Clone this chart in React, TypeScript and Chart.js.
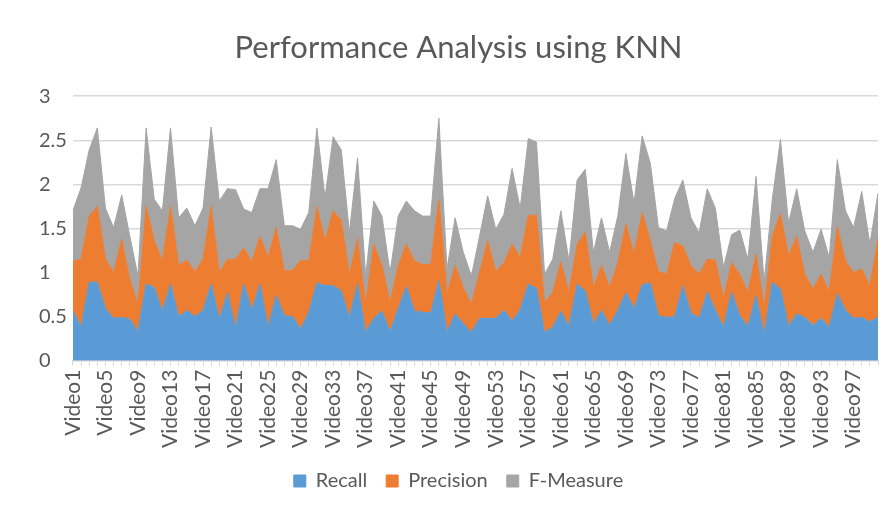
import React, { useEffect, useRef } from "react";
import { Chart, registerables } from "chart.js";

Chart.register(...registerables);

const categories: string[] = Array.from({ length: 100 }, (_, i) => "Video" + (i + 1));

const recall: number[] = [
  0.57, 0.38, 0.89, 0.89, 0.59, 0.48, 0.49, 0.47, 0.33, 0.87,
  0.83, 0.56, 0.87, 0.50, 0.57, 0.50, 0.57, 0.87, 0.47, 0.77,
  0.37, 0.87, 0.57, 0.87, 0.38, 0.74, 0.51, 0.50, 0.36, 0.55,
  0.88, 0.85, 0.85, 0.79, 0.49, 0.87, 0.32, 0.48, 0.56, 0.33,
  0.59, 0.84, 0.56, 0.55, 0.54, 0.91, 0.32, 0.53, 0.42, 0.32,
  0.48, 0.48, 0.48, 0.57, 0.45, 0.58, 0.87, 0.82, 0.32, 0.38,
  0.56, 0.39, 0.87, 0.79, 0.42, 0.57, 0.40, 0.57, 0.77, 0.59,
  0.86, 0.88, 0.51, 0.49, 0.50, 0.85, 0.54, 0.48, 0.78, 0.57,
  0.38, 0.78, 0.51, 0.39, 0.74, 0.30, 0.89, 0.81, 0.39, 0.53,
  0.49, 0.40, 0.48, 0.38, 0.76, 0.57, 0.48, 0.49, 0.44, 0.49,
];

const precision: number[] = [
  0.56, 0.77, 0.75, 0.86, 0.56, 0.52, 0.89, 0.45, 0.31, 0.88,
  0.53, 0.57, 0.88, 0.58, 0.57, 0.51, 0.58, 0.88, 0.53, 0.38,
  0.78, 0.41, 0.55, 0.54, 0.79, 0.77, 0.51, 0.52, 0.78, 0.58,
  0.87, 0.51, 0.85, 0.80, 0.49, 0.52, 0.32, 0.84, 0.52, 0.33,
  0.49, 0.48, 0.57, 0.54, 0.55, 0.92, 0.44, 0.55, 0.41, 0.32,
  0.52, 0.88, 0.53, 0.54, 0.87, 0.59, 0.78, 0.83, 0.34, 0.39,
  0.56, 0.38, 0.45, 0.67, 0.41, 0.51, 0.43, 0.54, 0.78, 0.62,
  0.82, 0.48, 0.50, 0.49, 0.84, 0.45, 0.54, 0.50, 0.37, 0.57,
  0.33, 0.33, 0.47, 0.38, 0.47, 0.31, 0.52, 0.86, 0.80, 0.88,
  0.49, 0.41, 0.50, 0.40, 0.76, 0.56, 0.52, 0.55, 0.41, 0.89,
];

const fMeasure: number[] = [
  0.57, 0.81, 0.75, 0.89, 0.58, 0.51, 0.50, 0.49, 0.32, 0.89,
  0.47, 0.57, 0.89, 0.54, 0.59, 0.52, 0.58, 0.90, 0.81, 0.80,
  0.79, 0.44, 0.56, 0.54, 0.78, 0.77, 0.51, 0.51, 0.35, 0.55,
  0.89, 0.49, 0.84, 0.80, 0.47, 0.91, 0.32, 0.49, 0.56, 0.34,
  0.56, 0.49, 0.57, 0.55, 0.55, 0.92, 0.28, 0.54, 0.40, 0.32,
  0.41, 0.51, 0.48, 0.55, 0.86, 0.56, 0.87, 0.83, 0.32, 0.38,
  0.58, 0.36, 0.73, 0.71, 0.40, 0.54, 0.40, 0.53, 0.80, 0.58,
  0.87, 0.88, 0.50, 0.49, 0.50, 0.75, 0.54, 0.47, 0.80, 0.59,
  0.35, 0.32, 0.50, 0.38, 0.88, 0.28, 0.42, 0.84, 0.37, 0.54,
  0.49, 0.42, 0.51, 0.39, 0.76, 0.57, 0.51, 0.88, 0.47, 0.52,
];

const seriesNames = ["Recall", "Precision", "F-Measure"];
const seriesColors = ["#5b9bd5", "#ed7d31", "#a5a5a5"];
const titleText = "Performance Analysis using KNN";
const FONT = "Lato, 'Open Sans', 'Liberation Sans', sans-serif";

export default function App() {
  const ref = useRef<HTMLCanvasElement | null>(null);

  useEffect(() => {
    document.body.style.margin = "0";
    const canvas = ref.current;
    if (!canvas) return;
    const values = [recall, precision, fMeasure];
    const chart = new Chart(canvas, {
      type: "line",
      data: {
        labels: categories,
        datasets: values.map((d, k) => ({
          label: seriesNames[k],
          data: d,
          backgroundColor: seriesColors[k],
          borderColor: seriesColors[k],
          borderWidth: 1,
          pointRadius: 0,
          pointHoverRadius: 0,
          tension: 0,
          fill: k === 0 ? "origin" : "-1",
        })),
      },
      options: {
        animation: false,
        responsive: false,
        maintainAspectRatio: false,
        layout: { padding: { left: 39, right: 12, top: 12, bottom: 7 } },
        plugins: {
          title: {
            display: true,
            text: titleText,
            color: "#595959",
            font: { family: FONT, size: 31, weight: "normal" },
            padding: { top: 17, bottom: 30 },
          },
          legend: {
            position: "bottom",
            labels: {
              color: "#595959",
              font: { family: FONT, size: 20 },
              boxWidth: 12,
              boxHeight: 12,
              padding: 19,
            },
          },
          tooltip: { enabled: false },
          filler: { propagate: false },
        },
        scales: {
          x: {
            offset: false,
            afterFit: (scale: any) => {
              scale.paddingLeft = 0;
              scale.paddingRight = 0;
            },
            grid: {
              display: true,
              drawOnChartArea: false,
              drawTicks: true,
              tickLength: 5,
              color: "#d9d9d9",
            },
            border: { display: true, color: "#d9d9d9" },
            ticks: {
              autoSkip: false,
              maxRotation: 90,
              minRotation: 90,
              color: "#595959",
              font: { family: FONT, size: 21 },
              padding: 4,
              callback: (_v: any, i: number) => (i % 4 === 0 ? categories[i] : ""),
            },
          },
          y: {
            stacked: true,
            min: 0,
            max: 3,
            ticks: {
              stepSize: 0.5,
              color: "#595959",
              font: { family: FONT, size: 20 },
              padding: 3,
              crossAlign: "far",
              callback: (v: any) => String(Number(v)),
            },
            grid: { color: "#d9d9d9", drawTicks: false, lineWidth: 1.5 },
            border: { display: false },
          },
        },
      },
    });
    return () => chart.destroy();
  }, []);

  return (
    <div style={{ width: 890, height: 508 }}>
      <canvas ref={ref} width={890} height={508} style={{ width: 890, height: 508 }} />
    </div>
  );
}
